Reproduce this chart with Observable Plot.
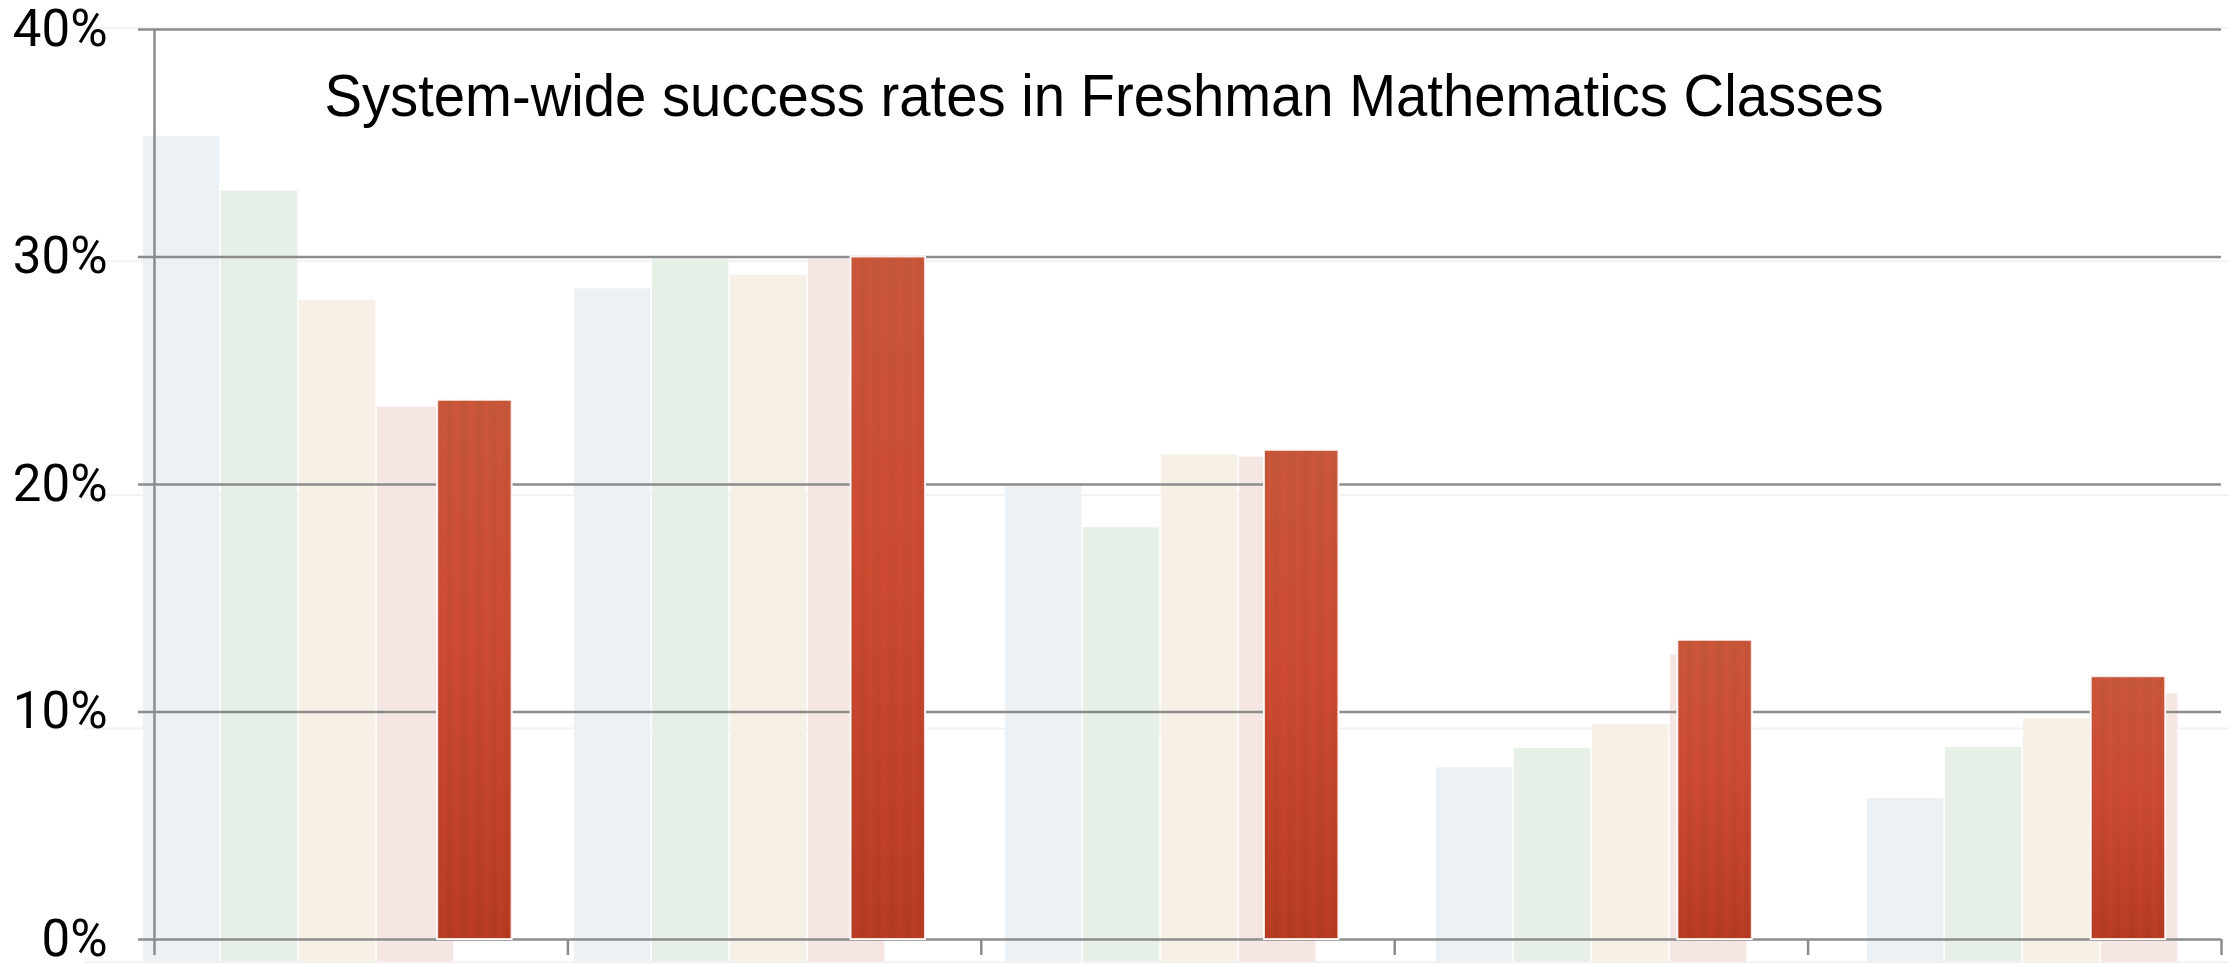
<!DOCTYPE html>
<html>
<head>
<meta charset="utf-8">
<script src="https://cdn.jsdelivr.net/npm/d3@7"></script>
<script src="https://cdn.jsdelivr.net/npm/@observablehq/plot@0.6"></script>
<style>
  html, body { margin: 0; padding: 0; background: #ffffff; }
  #chart svg { display: block; }
</style>
</head>
<body>
<div id="chart"></div>
<script>
// ---------- data ----------
const categories = ["Course 1", "Course 2", "Course 3", "Course 4", "Course 5"];
const backgroundSeries = ["Series 1", "Series 2", "Series 3", "Series 4"];
const series1 = [35.3, 28.6, 19.95, 7.55, 6.2];
const series2 = [32.9, 29.9, 18.1, 8.4, 8.45];
const series3 = [28.1, 29.2, 21.3, 9.45, 9.7];
const series4 = [23.4, 29.9, 21.2, 12.5, 10.8];
const highlighted = [23.7, 30.0, 21.5, 13.15, 11.55];
const yTicks = [0, 10, 20, 30, 40];
const yTickLabels = ["0%", "10%", "20%", "30%", "40%"];
const title = "System-wide success rates in Freshman Mathematics Classes";

// ---------- layout / style ----------
const W = 2237, H = 967;
const bgColors = ["#ecf1f5", "#e7f0e6", "#f6f0e6", "#f5e6e3"];
const bgValues = [series1, series2, series3, series4];
const BG_ZERO = -1.0, BG_RATIO = 1.027;           // faded background chart's own baseline/scale
const BG_OFF = -0.027, BG_GROUP = 1.0426, BG_PITCH = 0.1887, BG_W = 0.185;
const HL_X1 = 0.685, HL_X2 = 0.865;
const axisColor = "#8c8c8c";

const bgRows = [];
categories.forEach((c, i) => bgValues.forEach((vals, j) =>
  bgRows.push({category: c, i, j, series: backgroundSeries[j], value: vals[i]})));
const hlRows = categories.map((c, i) => ({category: c, i, value: highlighted[i]}));

const plot = Plot.plot({
  width: W,
  height: H,
  marginLeft: 154,
  marginRight: 16,
  marginTop: 29,
  marginBottom: 28,
  style: {background: "#ffffff", fontFamily: "Roboto, Liberation Sans, Arial, sans-serif", fontSize: "51px", color: "#000"},
  x: {domain: [0, categories.length], axis: null},
  y: {domain: [0, 40], axis: null},
  marks: [
    // faint gridlines of the faded background chart
    Plot.ruleY(yTicks.map(v => BG_ZERO + v * BG_RATIO), {x1: -0.17, x2: 5.02, stroke: "#f2f2f2", strokeWidth: 2}),
    // faded background bars
    Plot.rect(bgRows, {
      x1: d => BG_OFF + d.i * BG_GROUP + d.j * BG_PITCH,
      x2: d => BG_OFF + d.i * BG_GROUP + d.j * BG_PITCH + BG_W,
      y1: BG_ZERO,
      y2: "value",
      fill: d => bgColors[d.j]
    }),
    // main gridlines
    Plot.ruleY(yTicks, {stroke: axisColor, strokeWidth: 2.5}),
    Plot.axisY({
      ticks: yTicks,
      tickFormat: d => yTickLabels[yTicks.indexOf(d)],
      tickSize: 16,
      tickPadding: 31,
      stroke: axisColor,
      strokeWidth: 2.5,
      fill: "#000",
      fontSize: 51,
      label: null
    }),
    Plot.ruleX([0], {y1: 0, y2: 40, stroke: axisColor, strokeWidth: 2.5}),
    Plot.axisX({
      ticks: d3.range(categories.length + 1),
      tickSize: 16,
      tickFormat: () => "",
      stroke: axisColor,
      strokeWidth: 2.5,
      label: null
    }),
    // highlighted bars
    Plot.rect(hlRows, {
      x1: d => d.i + HL_X1, x2: d => d.i + HL_X2, y1: 0, y2: "value",
      fill: "url(#hlGrad)", stroke: "#ffffff", strokeWidth: 2
    }),
    Plot.rect(hlRows, {
      x1: d => d.i + HL_X1, x2: d => d.i + HL_X2, y1: 0, y2: "value",
      fill: "url(#hlStripes)"
    }),
    Plot.text([title], {
      text: d => d,
      frameAnchor: "top-left",
      textAnchor: "start",
      lineAnchor: "bottom",
      dx: 170,
      dy: 86,
      fontSize: 59,
      fill: "#000"
    })
  ]
});

// gradients
const svg = d3.select(plot);
const defs = svg.insert("defs", ":first-child");
const g1 = defs.append("linearGradient").attr("id", "hlGrad")
  .attr("x1", 0).attr("y1", 0).attr("x2", 0).attr("y2", 1);
[["0%", "#c85a3d"], ["45%", "#cd4b33"], ["100%", "#b33a20"]].forEach(([o, c]) =>
  g1.append("stop").attr("offset", o).attr("stop-color", c));
const g2 = defs.append("linearGradient").attr("id", "hlStripes")
  .attr("x1", 0).attr("y1", 0).attr("x2", 1).attr("y2", 0);
const stripeStops = [0, 0.08, 0.16, 0.26, 0.36, 0.46, 0.56, 0.66, 0.76, 0.86, 0.94, 1];
stripeStops.forEach((o, k) => g2.append("stop").attr("offset", o)
  .attr("stop-color", k % 2 ? "#e04a30" : "#9a3a22")
  .attr("stop-opacity", k % 2 ? 0.18 : 0.14));

svg.selectAll("rect").filter(function() { return this.getAttribute("fill") === "url(#hlGrad)"; })
  .style("filter", "drop-shadow(0px 0px 2px rgba(0,0,0,0.35))");

svg.selectAll("text").filter(function() { return this.textContent === title; })
  .attr("textLength", 1559).attr("lengthAdjust", "spacingAndGlyphs")
  .style("font-family", "Liberation Sans, Arial, sans-serif");

document.getElementById("chart").appendChild(plot);
</script>
</body>
</html>
